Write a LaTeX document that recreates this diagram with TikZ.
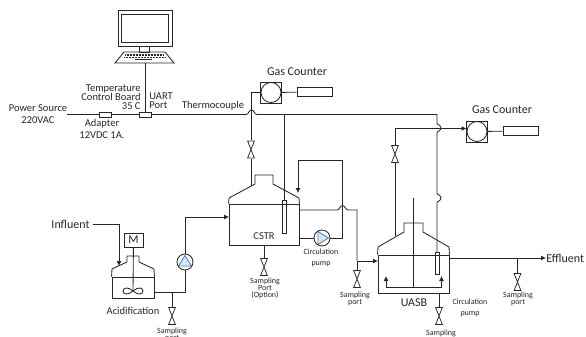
\documentclass[tikz,border=0pt]{standalone}
\usepackage{fontspec}
\setmainfont{Carlito}
\usepackage{tikz}
\usetikzlibrary{arrows.meta}
\definecolor{pumpblue}{HTML}{4A7EBB}
\definecolor{pumpfill}{HTML}{DCE6F2}
\definecolor{inkgray}{HTML}{262626}

\begin{document}
\begin{tikzpicture}[x=1pt,y=-1pt,line width=0.85pt,inkgray,
   tip/.style={-{Latex[length=5pt,width=5pt]}},
   box/.style={draw,rectangle,inner sep=0pt,minimum width=#1},
   box/.default=12pt,
   valve/.style={inner sep=0pt,minimum width=8pt,minimum height=18pt,
     path picture={\draw[line width=0.75pt,shift={(path picture bounding box.center)}]
       (-3.4,-8.6) -- (3.4,-8.6) -- (-3.4,8.6) -- (3.4,8.6) -- cycle;}},
   meter/.style={draw,rectangle,inner sep=0pt,minimum size=21pt,
     path picture={\draw[shift={(path picture bounding box.center)}] (0,0) circle[radius=10pt];}},
   pumpup/.style={draw,circle,inner sep=0pt,minimum size=16pt,
     path picture={\draw[pumpblue,fill=pumpfill,shift={(path picture bounding box.center)}]
       (0,-6.5) -- (-6.5,4) -- (6.5,4) -- cycle;}},
   pumpright/.style={draw,circle,inner sep=0pt,minimum size=16pt,
     path picture={\draw[pumpblue,fill=pumpfill,shift={(path picture bounding box.center)}]
       (-4,-6.5) -- (6.5,0) -- (-4,6.5) -- cycle;}},
   lab/.style={font=\fontsize{12}{12}\selectfont,inner sep=0pt,align=center},
   note/.style={font=\fontsize{10.5}{9}\selectfont,inner sep=0pt,align=center},
   tiny/.style={font=\fontsize{8}{7}\selectfont,inner sep=0pt,align=center}]
 \useasboundingbox (0,0) rectangle (586,337);
 % computer
 \node[box=54pt,minimum height=36pt] (monitor) at (145,28) {};
 \node[box=47pt,minimum height=28pt] (screen) at (145,28) {};
 \node[box=10pt,minimum height=6pt] (neck) at (144.5,49) {};
 \draw (124,52) -- (165,52) -- (174,63) -- (115,63) -- cycle;
 \draw[line width=1.1pt,dash pattern=on 1pt off 0.5pt] (125,55) -- (164,55);
 \draw[line width=1.1pt,dash pattern=on 1pt off 0.5pt] (124,57.5) -- (165,57.5);
 \draw[line width=1pt] (135,60) -- (152,60);
 \coordinate (laptop) at (145,63);
 % power line
 \node[box=12pt,minimum height=5pt] (adapter) at (105,114.5) {};
 \node[box=12pt,minimum height=5pt] (uart) at (145,114.5) {};
 \coordinate (source) at (67,114.5);
 \coordinate (thermoA) at (284,114.5);
 \draw (source) -- (adapter);
 \draw (adapter) -- (uart);
 \draw (laptop) -- (uart);
 \draw (uart) -- (246,114.5) .. controls (249,114.5) and (248.5,110) .. (251.5,110)
   .. controls (254.5,110) and (254,114.5) .. (257,114.5) -- (437,114.5)
   -- (437,123) .. controls (437,125) and (441,125) .. (441,128)
   .. controls (441,131) and (437,131) .. (437,133) -- (437,193)
   .. controls (437,195) and (441,195) .. (441,198)
   .. controls (441,201) and (437,201) .. (437,203) -- (437,252);
 \node[box=4pt,minimum height=22pt] (probeB) at (437,263) {};
 % gas counters
 \node[meter] (gasA) at (271,92.5) {};
 \node[box=35pt,minimum height=9pt] (tubeA) at (314.5,92) {};
 \draw (gasA) -- (tubeA);
 \node[valve] (valveA) at (251,149.5) {};
 \draw (gasA.west) -- (251,92.5) -- (valveA.north);
 \coordinate (hoodA) at (251,186);
 \draw (valveA.south) -- (hoodA);
 \node[meter] (gasB) at (477,131.5) {};
 \node[box=35pt,minimum height=9pt] (tubeB) at (520.5,131) {};
 \draw (gasB) -- (tubeB);
 \node[valve] (valveB) at (395,154) {};
 \coordinate (hoodB) at (395,236);
 \draw (hoodB) -- (valveB.south);
 \draw[tip] (valveB.north) -- (395,128.5) -- (466.5,128.5);
 % acidification tank
 \node[box=42pt,minimum height=21pt] (acid) at (133,287.5) {};
 \draw (acid.north west) -- (112,269) -- (127,262) -- (127,256) -- (139,256) -- (139,262)
   -- (154,269) -- (acid.north east);
 \node[box=19pt,minimum height=14pt,lab] (motor) at (133.5,240) {M};
 \coordinate (impeller) at (133,291);
 \draw (motor) -- (impeller);
 \draw (impeller) .. controls (128,286.5) and (123,287.5) .. (123,291) .. controls (123,294.5) and (128,295.5) .. (impeller)
   .. controls (138,286.5) and (143,287.5) .. (143,291) .. controls (143,294.5) and (138,295.5) .. (impeller);
 \node[lab,anchor=east] (influent) at (90,224) {Influent};
 \draw[tip] (influent.east) ++(3,0) -- (119,224) -- (119,266);
 \coordinate (acidout) at (154,292);
 \coordinate (acidtee) at (172,292);
 \node[pumpup] (pumpA) at (185,262) {};
 \node[valve] (valveC) at (172,316) {};
 \draw (acidout) -- (185,292) -- (pumpA);
 \draw (acidtee) -- (valveC.north);
 \draw[tip] (pumpA) -- (185,217) -- (229,217);
 % CSTR
 \node[box=70pt,minimum height=41pt] (cstr) at (264,224.5) {};
 \draw (cstr.north west) -- (229,198) -- (255,184) -- (255,175) -- (273,175) -- (273,184)
   -- (299,198) -- (cstr.north east);
 \node[box=4pt,minimum height=33pt] (probeA) at (284,217) {};
 \draw (thermoA) -- (probeA);
 \node[valve] (valveD) at (264,267) {};
 \draw (cstr.south) -- (valveD.north);
 \node[pumpright] (pumpB) at (322,238) {};
 \draw (299,238) -- (pumpB);
 \draw[tip] (pumpB) -- (342.5,238) -- (342.5,160) -- (298,160) -- (298,193);
 \draw (299,210) -- (337,210) .. controls (340,210) and (339.5,205.5) .. (342.5,205.5)
   .. controls (345.5,205.5) and (345,210) .. (348,210) -- (357,210) -- (357,261);
 \draw[tip] (357,261) -- (378,261);
 \node[valve] (valveE) at (357,279) {};
 \draw (357,261) -- (valveE.north);
 % UASB
 \node[box=71pt,minimum height=38pt] (uasb) at (413.5,274) {};
 \draw (uasb.north west) -- (378,247) -- (404,232) -- (404,223) -- (423,223) -- (423,232)
   -- (449,247) -- (uasb.north east);
 \coordinate (baffle) at (413,287);
 \draw (413,198) -- (baffle);
 \draw[tip] (baffle) -- (386,287) -- (386,276);
 \draw[tip] (baffle) -- (441.5,287) -- (441.5,276);
 \node[valve] (valveF) at (439,316) {};
 \draw (439,293) -- (valveF.north);
 \node[lab,anchor=west] (effluent) at (546,258) {Effluent};
 \draw[tip] (449,258) -- (effluent.west);
 \node[valve] (valveG) at (517.5,282) {};
 \draw (517.5,258) -- (valveG.north);
 % labels
 \node[note] (power) at (38,114) {Power Source\\[3pt]220VAC};
 \node[note] (adaptlab) at (102,129) {Adapter\\[3pt]12VDC 1A.};
 \node[note,align=right,anchor=north east] (board) at (141,84) {Temperature\\Control Board\\35 C};
 \node[note,align=left,anchor=north west] (uartlab) at (149,92) {UART\\Port};
 \node[note] (thermolab) at (213,106) {Thermocouple};
 \node[lab] (gaslabA) at (297,72) {Gas Counter};
 \node[lab] (gaslabB) at (502,110) {Gas Counter};
 \node[note] (acidlab) at (133,311) {Acidification};
 \node[note] (cstrlab) at (264,236) {CSTR};
 \node[lab] (uasblab) at (414,303) {UASB};
 \node[tiny] (samplA) at (172,334.5) {Sampling\\port};
 \node[tiny] (samplB) at (265,288.5) {Sampling\\Port\\(Option)};
 \node[tiny] (samplC) at (355,298.5) {Sampling\\port};
 \node[tiny] (samplD) at (441,336.5) {Sampling\\port};
 \node[tiny] (samplE) at (518,298.5) {Sampling\\port};
 \node[tiny] (circA) at (321,257.5) {Circulation\\[4pt]pump};
 \node[tiny] (circB) at (470,308) {Circulation\\[4pt]pump};
\end{tikzpicture}
\end{document}
